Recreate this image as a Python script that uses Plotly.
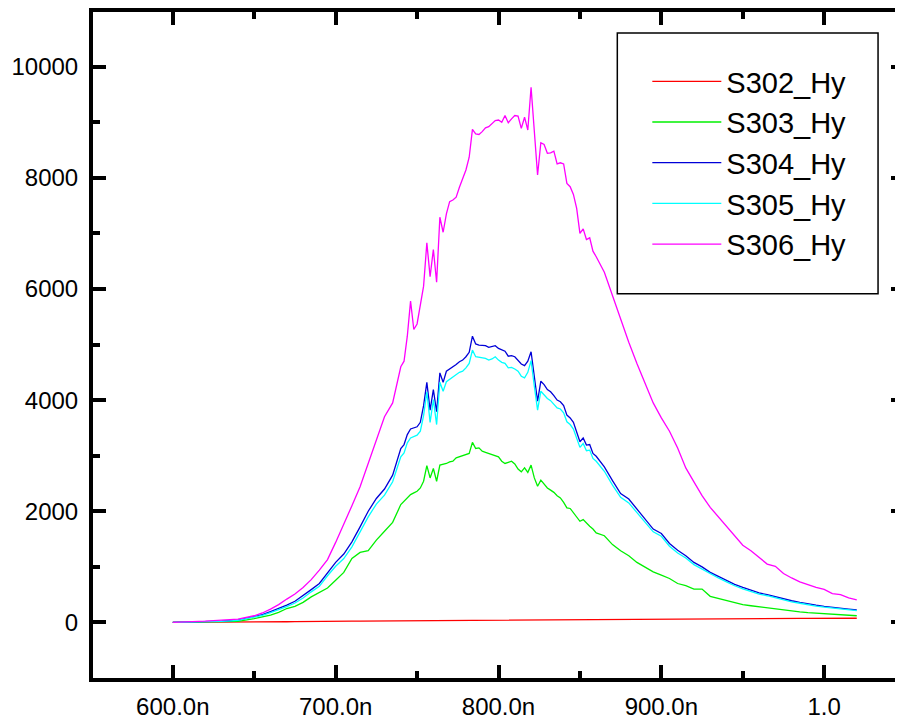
import plotly.graph_objects as go

# Wavelength (nm)
wavelength_nm = [
    600, 610, 620, 630, 640, 650, 655, 660, 665, 670, 675, 680, 685, 690, 695, 700, 705, 710, 715, 720, 725, 730, 735, 740,
    742, 744, 746, 748, 750, 752, 754, 756, 758, 760,
    762, 764, 766, 768, 770, 772, 774, 776, 778, 780,
    782, 784, 786, 788, 790, 792, 794, 796, 798, 800,
    802, 804, 806, 808, 810, 812, 814, 816, 818, 820,
    822, 824, 826, 828, 830, 832, 834, 836, 838, 840,
    842, 844, 846, 848, 850, 852, 854, 856, 858, 860,
    865, 870, 875, 880, 885, 890, 895, 900, 905, 910, 915, 920, 925, 930, 935, 940,
    945, 950, 955, 960, 965, 970, 975, 980, 985, 990, 995, 1000, 1005, 1010, 1015, 1020,
]

s302_hy = [
    0, 0, 2, 3, 5, 6, 8, 10, 10, 12, 15, 14, 15, 18, 20, 20, 22, 22, 25, 26, 28, 30, 30, 32,
    33, 33, 34, 35, 34, 35, 36, 36, 37, 36,
    38, 38, 39, 40, 39, 40, 41, 42, 41, 42,
    43, 44, 43, 44, 45, 46, 45, 46, 47, 48,
    47, 48, 49, 48, 49, 50, 51, 50, 51, 52,
    51, 52, 53, 52, 53, 54, 53, 54, 55, 54,
    55, 56, 55, 56, 57, 56, 57, 58, 57, 58,
    60, 62, 60, 63, 64, 62, 65, 66, 64, 66, 68, 66, 75, 67, 68, 70,
    69, 70, 71, 70, 72, 71, 73, 72, 74, 73, 74, 75, 74, 75, 76, 75,
]

s303_hy = [
    0, 3, 7, 12, 20, 70, 100, 131, 180, 250, 290, 360, 460, 540, 620, 760, 900, 1150, 1260, 1290, 1480, 1640, 1800, 2120,
    2180, 2250, 2300, 2330, 2360, 2420, 2540, 2820, 2600, 2770,
    2540, 2830, 2840, 2860, 2890, 2900, 2960, 2980, 2990, 3010,
    3040, 3240, 3130, 3140, 3080, 3060, 3040, 3020, 3000, 2980,
    2900, 2860, 2880, 2900, 2850, 2760, 2710, 2780, 2700, 2830,
    2600, 2450, 2560, 2480, 2420, 2380, 2340, 2280, 2240, 2160,
    2060, 2050, 1980, 1900, 1820, 1850, 1780, 1730, 1680, 1610,
    1560, 1400, 1290, 1200, 1080, 1000, 910, 850, 790, 700, 660, 600, 600, 470, 430, 390,
    360, 320, 300, 280, 260, 240, 225, 210, 190, 175, 165, 158, 150, 140, 130, 120,
]

s304_hy = [
    0, 5, 12, 22, 40, 105, 140, 195, 250, 310, 380, 477, 590, 700, 900, 1080, 1230, 1450, 1720, 2000, 2230, 2400, 2650, 3130,
    3200, 3380, 3480, 3500, 3520, 3600, 3900, 4320, 3820, 4190,
    3790, 4490, 4320, 4520, 4560, 4590, 4640, 4690, 4720, 4780,
    4860, 5150, 5010, 4990, 4980, 4980, 4950, 4960, 4980, 4930,
    4900, 4880, 4790, 4800, 4780, 4720, 4650, 4620, 4700, 4870,
    4450, 3980, 4340, 4280, 4190, 4150, 4080, 4000, 3970, 3900,
    3730, 3680, 3600, 3430, 3250, 3320, 3190, 3200, 3040, 2990,
    2800, 2550, 2320, 2220, 2040, 1870, 1680, 1600, 1420, 1300, 1200, 1080, 1000, 900, 830, 760,
    685, 630, 580, 530, 500, 460, 420, 390, 360, 330, 310, 290, 270, 255, 240, 225,
]

s305_hy = [
    0, 5, 11, 20, 36, 95, 128, 178, 230, 285, 350, 440, 550, 650, 840, 1010, 1150, 1360, 1630, 1900, 2130, 2290, 2530, 2980,
    3050, 3230, 3320, 3340, 3370, 3440, 3720, 4150, 3600, 4010,
    3560, 4320, 4160, 4330, 4370, 4420, 4460, 4500, 4520, 4580,
    4660, 4900, 4780, 4770, 4760, 4750, 4720, 4740, 4780, 4720,
    4680, 4660, 4580, 4590, 4560, 4520, 4430, 4400, 4500, 4710,
    4250, 3820, 4160, 4100, 4030, 3990, 3930, 3860, 3840, 3770,
    3610, 3560, 3480, 3320, 3150, 3220, 3090, 3100, 2950, 2900,
    2720, 2470, 2250, 2150, 1980, 1810, 1630, 1550, 1370, 1250, 1160, 1040, 960, 870, 800, 730,
    660, 605, 555, 510, 480, 440, 400, 370, 345, 315, 295, 275, 258, 242, 228, 212,
]

s306_hy = [
    0, 8, 22, 40, 60, 120, 170, 240, 320, 420, 510, 630, 770, 940, 1130, 1440, 1760, 2100, 2440, 2850, 3250, 3700, 3950, 4600,
    4700, 5150, 5780, 5270, 5370, 5750, 6050, 6830, 6220, 6710,
    6120, 7290, 7020, 7350, 7570, 7600, 7650, 7830, 7980, 8140,
    8370, 8870, 8790, 8780, 8830, 8900, 8920, 8980, 9030, 9040,
    9000, 9120, 8990, 9060, 9120, 9110, 8890, 9090, 8860, 9630,
    8840, 8050, 8630, 8600, 8440, 8450, 8480, 8250, 8270, 8250,
    7900, 7840, 7700, 7450, 7000, 7080, 6890, 6920, 6680, 6580,
    6300, 5880, 5450, 5040, 4660, 4300, 3950, 3680, 3440, 3140, 2780, 2530, 2280, 2070, 1900, 1720,
    1550, 1390, 1290, 1170, 1050, 1010, 880, 800, 730, 680, 630, 595, 520, 500, 440, 405,
]

series_names = ["S302_Hy", "S303_Hy", "S304_Hy", "S305_Hy", "S306_Hy"]
series_values = [s302_hy, s303_hy, s304_hy, s305_hy, s306_hy]
series_colors = ["#FF0000", "#00F000", "#0000D8", "#00FFFF", "#FF00FF"]

x_tick_vals = [600, 700, 800, 900, 1000]
x_tick_text = ["600.0n", "700.0n", "800.0n", "900.0n", "1.0"]
x_minor_vals = [550, 650, 750, 850, 950, 1050]

FONT = "Liberation Sans, Arial, sans-serif"

fig = go.Figure()
for name, vals, col in zip(series_names, series_values, series_colors):
    fig.add_trace(go.Scatter(x=wavelength_nm, y=vals, name=name, mode="lines",
                             line=dict(color=col, width=1.3)))

axis_common = dict(
    showline=True, linecolor="black", linewidth=4, mirror="ticks",
    ticks="inside", tickcolor="black", tickwidth=3.5, ticklen=13,
    showgrid=False, zeroline=False,
    tickfont=dict(family=FONT, size=24, color="black"),
)

fig.update_layout(
    width=900, height=712,
    margin=dict(l=85, r=0, t=4, b=39),
    paper_bgcolor="white", plot_bgcolor="white",
    font=dict(family=FONT, color="black"),
    xaxis=dict(range=[551, 1049], tickmode="array", tickvals=x_tick_vals, ticktext=x_tick_text,
               minor=dict(ticks="inside", tickvals=x_minor_vals, ticklen=7, tickwidth=3.5, tickcolor="black"),
               ticklabelstandoff=4, **axis_common),
    yaxis=dict(range=[-1000, 10983], tickmode="linear", tick0=0, dtick=2000, tickformat="d",
               minor=dict(ticks="inside", dtick=1000, ticklen=7, tickwidth=3.5, tickcolor="black"),
               ticklabelstandoff=6, **axis_common),
    legend=dict(x=0.6835, y=0.934, xanchor="left", yanchor="top",
                borderwidth=0, bgcolor="rgba(0,0,0,0)",
                font=dict(family=FONT, size=29, color="black"),
                itemwidth=69, tracegroupgap=0),
    showlegend=True,
    shapes=[dict(type="rect", xref="paper", yref="paper", x0=0.6465, x1=0.968, y0=0.577, y1=0.9686,
                 line=dict(color="black", width=1.5), fillcolor="white", layer="above")],
)

fig.write_html("out.html")
